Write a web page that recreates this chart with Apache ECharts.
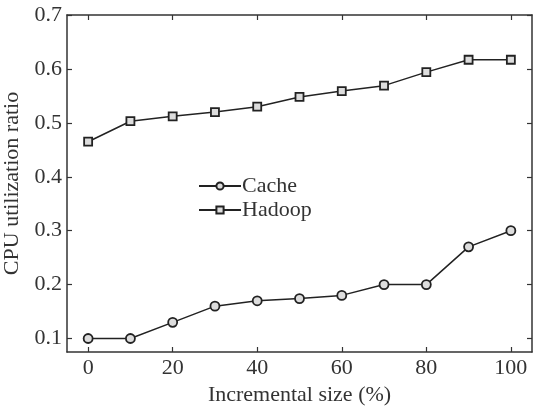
<!DOCTYPE html>
<html><head><meta charset="utf-8">
<script src="https://cdn.jsdelivr.net/npm/echarts@6/dist/echarts.min.js"></script>
<style>html,body{margin:0;padding:0;background:#fff}#c{width:533px;height:408px}</style>
</head><body><div id="c"></div>
<script>
const xValues = [0, 10, 20, 30, 40, 50, 60, 70, 80, 90, 100];
const cache = [0.100, 0.100, 0.130, 0.160, 0.170, 0.174, 0.180, 0.200, 0.200, 0.270, 0.300];
const hadoop = [0.465, 0.503, 0.512, 0.520, 0.530, 0.548, 0.559, 0.569, 0.594, 0.617, 0.617];
const xTicks = [0, 20, 40, 60, 80, 100];
const yTicks = [0.1, 0.2, 0.3, 0.4, 0.5, 0.6, 0.7];

const font = '"Liberation Serif", "DejaVu Serif", serif';
const txt = '#333';
const FS = 22;
const chart = echarts.init(document.getElementById('c'));
function xAxis(pos, labels) {
  return {
    type: 'value', position: pos, min: -5, max: 105,
    axisLine: {show: true, onZero: false, lineStyle: {color: '#333', width: 1.5}},
    axisTick: {show: true, inside: true, length: 5, customValues: xTicks, lineStyle: {color: '#333', width: 1.2}},
    axisLabel: {show: labels, customValues: xTicks, color: txt, fontFamily: font, fontSize: FS, margin: 5},
    splitLine: {show: false},
    name: labels ? 'Incremental size (%)' : '', nameLocation: 'middle', nameGap: 28,
    nameTextStyle: {color: txt, fontFamily: font, fontSize: FS}
  };
}
function yAxis(pos, labels) {
  return {
    type: 'value', position: pos, min: 0.075, max: 0.7,
    axisLine: {show: true, onZero: false, lineStyle: {color: '#333', width: 1.5}},
    axisTick: {show: true, inside: true, length: 5, customValues: yTicks, lineStyle: {color: '#333', width: 1.2}},
    axisLabel: {show: labels, customValues: yTicks, color: txt, fontFamily: font, fontSize: FS, margin: 5,
      formatter: v => v.toFixed(1)},
    splitLine: {show: false},
    name: labels ? 'CPU utilization ratio' : '', nameLocation: 'middle', nameGap: 40,
    nameTextStyle: {color: txt, fontFamily: font, fontSize: FS}
  };
}
const lineStyle = {color: '#222', width: 1.5};
chart.setOption({
  animation: false,
  grid: {left: 67, right: 1, top: 15, bottom: 56, containLabel: false, outerBoundsMode: 'none'},
  xAxis: [xAxis('bottom', true), xAxis('top', false)],
  yAxis: [yAxis('left', true), yAxis('right', false)],
  legend: {
    orient: 'vertical', left: 193, top: 170, itemGap: 2, itemWidth: 42, itemHeight: 9,
    textStyle: {color: txt, fontFamily: font, fontSize: FS, padding: [0, 0, 0, -4]},
    data: ['Cache', 'Hadoop']
  },
  series: [
    {name: 'Cache', type: 'line', data: xValues.map((x, i) => [x, cache[i]]),
     symbol: 'circle', symbolSize: 9, lineStyle: lineStyle,
     itemStyle: {color: '#ddd', borderColor: '#222', borderWidth: 1.8}},
    {name: 'Hadoop', type: 'line', data: xValues.map((x, i) => [x, hadoop[i]]),
     symbol: 'rect', symbolSize: 8, lineStyle: lineStyle,
     itemStyle: {color: '#ddd', borderColor: '#222', borderWidth: 1.8}}
  ]
});
</script></body></html>
